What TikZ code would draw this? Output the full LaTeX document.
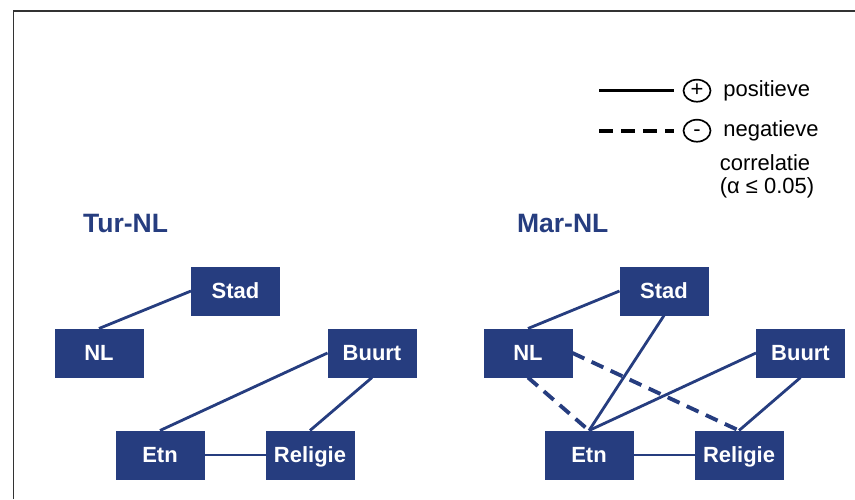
\documentclass[tikz,border=0pt]{standalone}
\usepackage{fontspec}
\setmainfont{Liberation Sans}
\usepackage{tikz}
\usetikzlibrary{arrows,shapes,calc,positioning}
\definecolor{corblue}{RGB}{38,61,127}
\tikzstyle{varbox} =[rectangle, fill=corblue, text=white,
                     minimum width=1.78cm, minimum height=0.98cm,
                     inner sep=0pt, outer sep=0pt,
                     text height=8.95pt, text depth=0pt,
                     font=\fontsize{12.5}{15}\selectfont\bfseries]
\tikzstyle{posedge}=[draw=corblue, line width=1.6pt]
\tikzstyle{negedge}=[draw=corblue, line width=2.2pt,
                     dash pattern=on 0.26cm off 0.16cm]
\tikzstyle{grouphead}=[inner sep=0pt, text=corblue, anchor=base west,
                     font=\fontsize{15.1}{18}\selectfont\bfseries]
\tikzstyle{legtext}=[inner sep=0pt, text=black,
                     font=\fontsize{12.5}{15}\selectfont]
\tikzstyle{signcircle}=[ellipse, draw=black, line width=0.95pt,
                     minimum width=0.54cm, minimum height=0.44cm,
                     inner sep=0pt, text height=6.5pt, text depth=0pt,
                     font=\fontsize{12.5}{15}\selectfont]
\tikzstyle{frameline}=[draw=black!80, line width=0.9pt]

\begin{document}
\begin{tikzpicture}[node distance=1cm, on grid]

            \useasboundingbox (0,0) rectangle (17.1,-9.98);
            \draw[frameline] (0.27,-9.98) -- (0.27,-0.22) -- (17.1,-0.22);

            \begin{scope}
                \node (turHead) [grouphead] at (1.654,-4.64) {Tur-NL};
                \node (nlT) [varbox] at (1.98,-7.06) {NL};
                \node (stadT) [varbox, above right=1.24cm and 2.73cm of nlT] {Stad};
                \node (buurtT) [varbox, right=5.46cm of nlT] {Buurt};
                \node (etnT) [varbox, below right=2.04cm and 1.22cm of nlT] {Etn};
                \node (religieT) [varbox, right=3cm of etnT] {Religie};
                \draw[posedge] (nlT.north) to (stadT.west);
                \draw[posedge] (etnT.north) to (buurtT.west);
                \draw[posedge] (buurtT.south) to (religieT.north);
                \draw[posedge] (etnT) to (religieT);
            \end{scope}

            \begin{scope}
                \node (marHead) [grouphead] at (10.334,-4.64) {Mar-NL};
                \node (nlM) [varbox] at (10.56,-7.06) {NL};
                \node (stadM) [varbox, above right=1.24cm and 2.72cm of nlM] {Stad};
                \node (buurtM) [varbox, right=5.45cm of nlM] {Buurt};
                \node (etnM) [varbox, below right=2.04cm and 1.22cm of nlM] {Etn};
                \node (religieM) [varbox, right=3cm of etnM] {Religie};
                \draw[posedge] (nlM.north) to (stadM.west);
                \draw[posedge] (stadM.south) to (etnM.north);
                \draw[posedge] (buurtM.west) to (etnM.north);
                \draw[posedge] (buurtM.south) to (religieM.north);
                \draw[posedge] (etnM) to (religieM);
                \draw[negedge] (nlM.south) to (etnM.north);
                \draw[negedge] (nlM.east) to (religieM.north);
            \end{scope}

            \begin{scope}
                \coordinate (solidA) at (11.98,-1.814);
                \coordinate (solidB) at (13.48,-1.814);
                \coordinate (dashA) at (11.98,-2.614);
                \coordinate (dashB) at (13.48,-2.614);
                \node (plusSign) [signcircle] at (13.94,-1.814) {+};
                \node (minusSign) [signcircle] at (13.94,-2.614) {-};
                \node (posText) [legtext, anchor=base west] at (14.46,-1.93) {positieve};
                \node (negText) [legtext, anchor=base west] at (14.46,-2.73) {negatieve};
                \node (corText) [legtext, anchor=base] at (15.3,-3.4) {correlatie};
                \node (alphaText) [legtext, anchor=base] at (15.34,-3.87) {(α ≤ 0.05)};
                \draw[line width=1.7pt] (solidA) to (solidB);
                \draw[line width=2.3pt, dash pattern=on 0.28cm off 0.16cm] (dashA) to (dashB);
            \end{scope}
        \end{tikzpicture}
\end{document}
